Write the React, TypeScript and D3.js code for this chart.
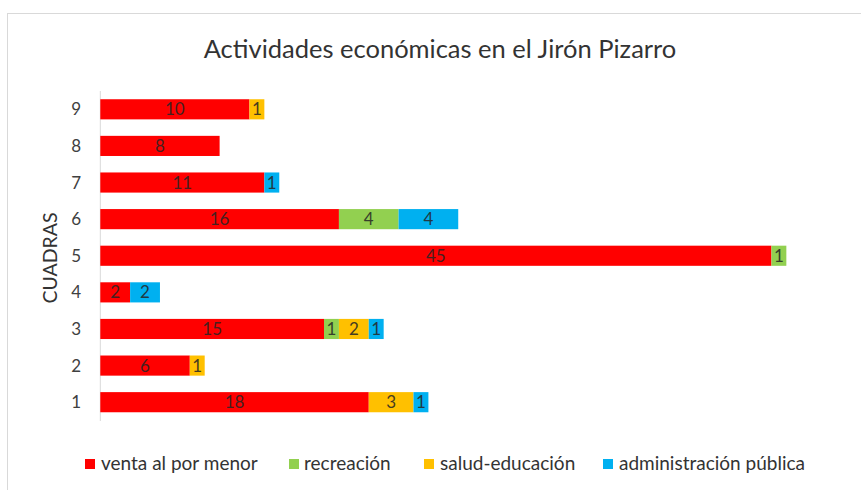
import React from "react";
import * as d3 from "d3";

const categories = ["1", "2", "3", "4", "5", "6", "7", "8", "9"];
const seriesNames = ["venta al por menor", "recreación", "salud-educación", "administración pública"];
const venta = [18, 6, 15, 2, 45, 16, 11, 8, 10];
const recreacion = [0, 0, 1, 0, 1, 4, 0, 0, 0];
const salud = [3, 1, 2, 0, 0, 0, 0, 0, 1];
const admin = [1, 0, 1, 2, 0, 4, 1, 0, 0];
const colors = ["#FF0000", "#92D050", "#FFC000", "#00B0F0"];
const title = "Actividades económicas en el Jirón Pizarro";
const yTitle = "CUADRAS";

const W = 861;
const H = 490;
const FONT = "Lato, 'Open Sans', sans-serif";

export default function App() {
  const rows = categories.map((c, i) => ({
    cat: c,
    v0: venta[i],
    v1: recreacion[i],
    v2: salud[i],
    v3: admin[i],
  }));
  const stack = d3.stack<any>().keys(["v0", "v1", "v2", "v3"]);
  const series = stack(rows);

  const x = d3.scaleLinear().domain([0, 50]).range([100.3, 846]);
  const y = d3
    .scaleBand()
    .domain([...categories].reverse())
    .range([91, 420.5])
    .paddingInner(0.45)
    .paddingOuter(0.225);

  const legendItems = [
    { x: 85, tx: 101 },
    { x: 289, tx: 304 },
    { x: 424, tx: 440 },
    { x: 603, tx: 619 },
  ];

  return (
    <svg width={W} height={H} style={{ position: "absolute", left: 0, top: 0 }}>
      <rect x={0} y={0} width={W} height={H} fill="#fff" />
      <rect x={7.5} y={13.5} width={W} height={H} fill="#fff" stroke="#d9d9d9" strokeWidth={1} />
      <text
        x={440}
        y={58}
        textAnchor="middle"
        fontFamily={FONT}
        fontWeight={400}
        fontSize={25.5}
        fill="#333"
      >
        {title}
      </text>
      {/* axis line */}
      <line x1={100.3} x2={100.3} y1={91} y2={421} stroke="#d9d9d9" strokeWidth={1} />
      {/* tick labels */}
      {categories.map((c) => (
        <text
          key={c}
          x={81}
          y={(y(c) as number) + y.bandwidth() / 2 + 6}
          textAnchor="end"
          fontFamily={FONT}
          fontSize={17}
          fill="#404040"
        >
          {c}
        </text>
      ))}
      <text
        transform={`translate(57,258) rotate(-90)`}
        textAnchor="middle"
        fontFamily={FONT}
        fontSize={19.5}
        fill="#333"
      >
        {yTitle}
      </text>
      {series.map((s, si) => (
        <g key={si}>
          {s.map((d, i) => {
            const val = d[1] - d[0];
            if (val <= 0) return null;
            const cat = categories[i];
            const x0 = x(d[0]);
            const x1 = x(d[1]);
            const yy = y(cat) as number;
            return (
              <g key={i}>
                <rect x={x0} y={yy} width={x1 - x0} height={y.bandwidth()} fill={colors[si]} />
                <text
                  x={(x0 + x1) / 2}
                  y={yy + y.bandwidth() / 2 + 6}
                  textAnchor="middle"
                  fontFamily={FONT}
                  fontSize={17}
                  fill="#262626"
                  opacity={0.85}
                >
                  {val}
                </text>
              </g>
            );
          })}
        </g>
      ))}
      {seriesNames.map((n, i) => (
        <g key={n}>
          <rect x={legendItems[i].x} y={459} width={10} height={10} fill={colors[i]} />
          <text x={legendItems[i].tx} y={470} fontFamily={FONT} fontSize={19} fill="#333">
            {n}
          </text>
        </g>
      ))}
    </svg>
  );
}
